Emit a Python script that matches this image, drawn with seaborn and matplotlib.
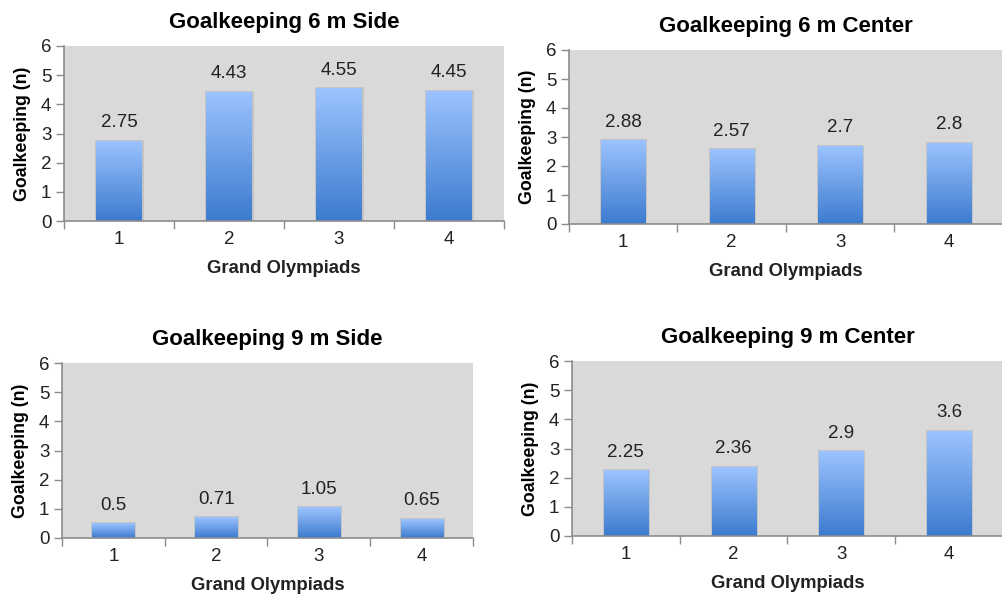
import numpy as np
import pandas as pd
import matplotlib
matplotlib.use("Agg")
import matplotlib.pyplot as plt
import seaborn as sns
from matplotlib.colors import LinearSegmentedColormap

# Grand Olympiad goalkeeping counts per shot zone
olympiads = ["1", "2", "3", "4"]
side_6m = [2.75, 4.43, 4.55, 4.45]
center_6m = [2.88, 2.57, 2.7, 2.8]
side_9m = [0.5, 0.71, 1.05, 0.65]
center_9m = [2.25, 2.36, 2.9, 3.6]

titles = ["Goalkeeping 6 m Side", "Goalkeeping 6 m Center",
          "Goalkeeping 9 m Side", "Goalkeeping 9 m Center"]
series = [side_6m, center_6m, side_9m, center_9m]

sns.set_theme(style="white")
plt.rcParams["font.family"] = ["Liberation Sans", "DejaVu Sans"]

W, H = 1003, 596
fig = plt.figure(figsize=(W / 100, H / 100), dpi=100)
fig.patch.set_facecolor("white")

# panel boxes in pixels: left, top, right, bottom
boxes = [(64, 46, 504, 221), (569, 50, 1003, 224),
         (62, 363, 473, 538), (572, 361, 1003, 536)]

grad = LinearSegmentedColormap.from_list("bar", ["#3C7BCF", "#6C9FE6", "#9CC3FF"])
spine_col = "#8C8C8C"
text_col = "#222222"

for (l, t, r, b), title, vals in zip(boxes, titles, series):
    ax = fig.add_axes([l / W, 1 - b / H, (r - l) / W, (b - t) / H])
    df = pd.DataFrame({"olympiad": olympiads, "value": vals})
    sns.barplot(data=df, x="olympiad", y="value", ax=ax, width=0.41,
                color="#6C9FE6", errorbar=None, saturation=1)
    ax.set_facecolor("#D9D9D9")

    # vertical gradient fill clipped to each bar, soft grey rim as a shadow
    gradient = np.linspace(0, 1, 256).reshape(-1, 1)
    for p in ax.patches:
        x0, y0 = p.get_x(), p.get_y()
        w, h = p.get_width(), p.get_height()
        im = ax.imshow(gradient, cmap=grad, origin="lower", aspect="auto",
                       extent=[x0, x0 + w, y0, y0 + h], zorder=p.get_zorder() + 0.1)
        im.set_clip_path(p)
        p.set_facecolor("none")
        p.set_edgecolor("#C2C2C2")
        p.set_linewidth(2.0)
    ax.set_xlim(-0.5, 3.5)
    ax.set_ylim(0, 6)

    ax.bar_label(ax.containers[0], labels=[f"{v:g}" for v in vals],
                 padding=7, fontsize=13.5, color=text_col)

    ax.set_title(title, fontsize=16, fontweight="bold", pad=13, color="black")
    ax.set_xlabel("Grand Olympiads", fontsize=13.3, fontweight="bold",
                  labelpad=8.5, color=text_col)
    ax.set_ylabel("Goalkeeping (n)", fontsize=12.8, fontweight="bold",
                  labelpad=7, color="black")

    ax.set_yticks(range(0, 7))
    ax.tick_params(axis="y", which="major", length=6, width=1, color=spine_col,
                   direction="out", labelsize=13.5, labelcolor=text_col, pad=3, left=True)
    ax.set_xticks(range(4))
    ax.set_xticklabels(olympiads)
    ax.set_xticks(np.arange(-0.5, 4.0, 1.0), minor=True)
    ax.tick_params(axis="x", which="major", length=0, labelsize=13.5,
                   labelcolor=text_col, pad=7)
    ax.tick_params(axis="x", which="minor", length=6, width=1, color=spine_col,
                   direction="out", bottom=True)

    for side in ["top", "right"]:
        ax.spines[side].set_visible(False)
    for side in ["left", "bottom"]:
        ax.spines[side].set_visible(True)
        ax.spines[side].set_color(spine_col)
        ax.spines[side].set_linewidth(1.2)
        ax.spines[side].set_zorder(5)
    ax.grid(False)

fig.savefig("out.png", dpi=100)
